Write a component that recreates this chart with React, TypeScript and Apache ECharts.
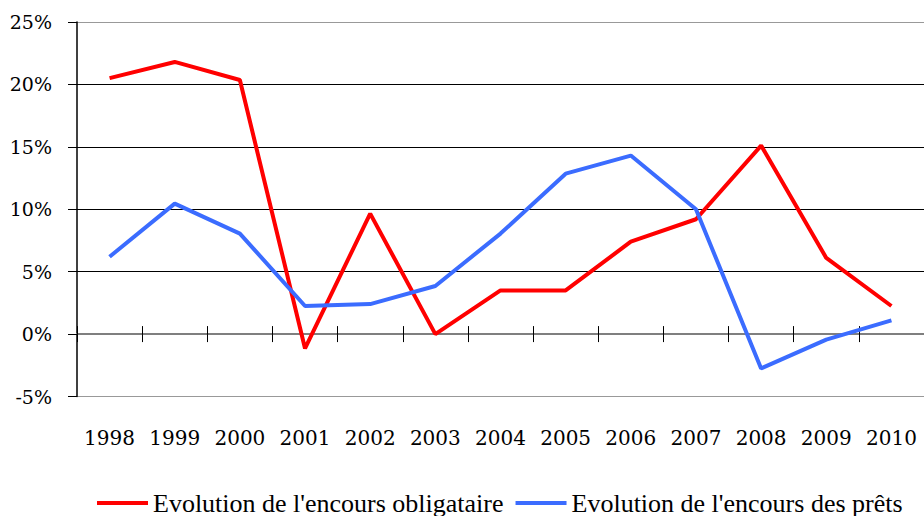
import React, { useEffect, useRef } from "react";
import * as echarts from "echarts";

const years = ["1998", "1999", "2000", "2001", "2002", "2003", "2004", "2005", "2006", "2007", "2008", "2009", "2010"];
const obligataire = [20.5, 21.8, 20.35, -1.15, 9.65, 0.0, 3.5, 3.5, 7.4, 9.2, 15.1, 6.1, 2.25];
const prets = [6.2, 10.45, 8.05, 2.25, 2.4, 3.85, 8.05, 12.85, 14.3, 10.0, -2.75, -0.45, 1.1];
const seriesNames = ["Evolution de l'encours obligataire", "Evolution de l'encours des prêts"];

const FONT = "serif";
const DIGIT_FONT = "DejaVu Serif";

export default function App() {
  const ref = useRef<HTMLDivElement>(null);
  useEffect(() => {
    if (!ref.current) return;
    const chart = echarts.init(ref.current, undefined, { renderer: "svg" });
    chart.setOption({
      animation: false,
      backgroundColor: "#ffffff",
      grid: { left: 77, right: -5, top: 22, bottom: 119.5, containLabel: false },
      legend: {
        data: seriesNames,
        left: 92,
        top: 483,
        icon: "rect",
        itemWidth: 51,
        itemHeight: 4,
        itemGap: 12,
        textStyle: { fontFamily: FONT, fontSize: 26, color: "#000", lineHeight: 30 },
      },
      xAxis: [
        {
          type: "category",
          data: years,
          position: "bottom",
          boundaryGap: true,
          axisLine: { show: true, onZero: true, onZeroAxisIndex: 0, lineStyle: { color: "#7f7f7f", width: 2 } },
          axisTick: { show: true, length: 8, lineStyle: { color: "#000", width: 1 } },
          axisLabel: { fontFamily: DIGIT_FONT, fontSize: 20, color: "#000", margin: 31, interval: 0 },
          splitLine: { show: false },
        },
        {
          type: "category",
          data: years,
          position: "top",
          boundaryGap: true,
          axisLine: { show: true, onZero: true, onZeroAxisIndex: 0, lineStyle: { color: "#7f7f7f", width: 2 } },
          axisTick: { show: true, length: 8, lineStyle: { color: "#000", width: 1 } },
          axisLabel: { show: false },
          splitLine: { show: false },
        },
      ],
      yAxis: {
        type: "value",
        min: -5,
        max: 25,
        interval: 5,
        axisLine: { show: true, lineStyle: { color: "#000", width: 1.5 } },
        axisTick: { show: true, length: 9, lineStyle: { color: "#000", width: 1 } },
        axisLabel: { fontFamily: DIGIT_FONT, fontSize: 19, color: "#000", margin: 25, formatter: "{value}%" },
        splitLine: {
          show: true,
          lineStyle: { color: ["#999", "#000", "#000", "#000", "#000", "#000", "#999"], width: 1 },
        },
      },
      series: [
        {
          name: seriesNames[0],
          type: "line",
          data: obligataire,
          xAxisIndex: 0,
          symbol: "none",
          lineStyle: { color: "#ff0000", width: 4 },
          itemStyle: { color: "#ff0000" },
        },
        {
          name: seriesNames[1],
          type: "line",
          data: prets,
          xAxisIndex: 0,
          symbol: "none",
          lineStyle: { color: "#3b6cff", width: 4 },
          itemStyle: { color: "#3b6cff" },
        },
      ],
    });
    return () => chart.dispose();
  }, []);
  return <div ref={ref} style={{ position: "fixed", left: 0, top: 0, width: 924, height: 516 }} />;
}
